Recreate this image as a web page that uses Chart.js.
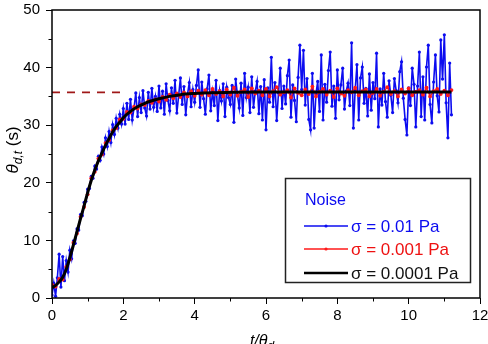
<!DOCTYPE html>
<html><head><meta charset="utf-8">
<script src="https://cdn.jsdelivr.net/npm/chart.js@4"></script>
<style>html,body{margin:0;padding:0;background:#fff}#wrap{position:relative;width:488px;height:344px}</style>
</head><body><div id="wrap"><canvas id="c" width="488" height="344"></canvas></div>
<script>
// sampling step of the noisy series (t/θd)
const blueStep = 0.05;
const blueValues = [
 0.5, 2.6, 0.3, 3.5, 7.6, 1.9, 7.2, 3.0, 6.5, 4.5, 8.3, 6.8, 9.9, 9.5, 12.0, 11.8, 14.5, 14.3, 16.6, 16.8,
 18.9, 19.0, 21.1, 20.8, 22.9, 22.4, 24.6, 23.9, 26.2, 25.0, 27.8, 26.3, 28.9, 27.0, 30.1, 28.4, 31.2, 29.5, 31.9, 30.2,
 32.9, 30.2, 33.8, 31.0, 34.5, 30.9, 33.0, 35.6, 31.5, 34.8, 32.2, 36.0, 33.0, 31.6, 35.7, 32.8, 36.4, 33.1, 35.0, 32.4,
 36.8, 33.0, 35.9, 31.9, 37.2, 34.3, 32.5, 36.5, 33.8, 37.8, 32.1, 35.1, 38.2, 33.6, 36.7, 31.8, 35.4, 37.4, 33.2, 36.2,
 34.0, 36.9, 39.6, 33.1, 37.5, 34.6, 31.9, 36.3, 38.7, 32.5, 35.8, 33.4, 37.8, 30.8, 36.0, 34.2, 37.2, 31.5, 36.6, 34.8,
 33.6, 36.9, 30.5, 38.0, 35.2, 33.0, 37.3, 31.7, 39.0, 34.8, 36.6, 32.2, 38.4, 33.1, 35.9, 37.6, 32.0, 36.7, 30.9, 37.9,
 29.2, 36.5, 34.0, 41.8, 33.2, 37.4, 30.8, 35.6, 39.9, 32.9, 36.8, 33.7, 38.6, 41.3, 31.4, 37.0, 34.3, 30.6, 38.3, 43.9,
 36.2, 43.0, 33.5, 38.1, 31.0, 29.2, 39.0, 29.5, 35.4, 37.6, 32.4, 42.2, 30.9, 37.1, 34.0, 39.5, 42.7, 33.3, 36.8, 31.2,
 39.6, 34.4, 37.0, 39.9, 32.8, 35.9, 37.3, 33.4, 44.3, 29.5, 36.1, 40.5, 30.9, 38.2, 40.1, 33.8, 36.4, 31.6, 38.9, 32.6,
 37.4, 34.6, 42.5, 29.7, 36.3, 33.5, 39.0, 34.1, 31.4, 37.7, 35.2, 32.2, 38.1, 36.0, 33.9, 39.3, 41.0, 34.7, 31.0, 28.3,
 36.5, 33.4, 39.9, 37.1, 29.7, 36.8, 42.7, 31.5, 38.4, 30.9, 40.1, 43.9, 33.6, 30.4, 37.5, 42.2, 35.1, 32.3, 44.8, 38.0,
 45.7, 33.9, 27.8, 40.8, 31.8
];
const redStep = 0.1;
const redValues = [
 2.3, 2.0, 3.3, 3.2, 5.4, 6.7, 9.6, 11.2, 14.1, 15.8,
 18.0, 20.8, 21.9, 24.2, 24.9, 26.9, 27.4, 29.1, 29.5, 31.0,
 31.1, 32.3, 32.2, 33.2, 32.9, 33.6, 33.5, 34.2, 33.9, 34.5,
 34.1, 34.9, 34.4, 35.3, 34.7, 35.5, 34.9, 35.7, 35.0, 35.9,
 35.1, 36.0, 35.3, 36.1, 35.2, 36.3, 35.4, 35.9, 35.0, 36.2,
 35.3, 36.5, 35.1, 35.8, 36.2, 34.9, 36.4, 35.5, 36.0, 35.2,
 36.3, 35.0, 35.9, 36.6, 35.3, 35.7, 36.1, 34.8, 36.4, 35.6,
 35.2, 36.2, 35.4, 36.7, 35.0, 35.8, 36.3, 35.3, 36.0, 34.9,
 36.4, 35.5, 35.1, 36.1, 35.7, 36.5, 35.2, 35.9, 36.2, 35.0,
 35.6, 36.3, 35.1, 35.8, 36.6, 35.4, 35.9, 35.0, 36.2, 35.5,
 36.4, 35.2, 35.8, 36.1, 35.3, 36.5, 35.0, 35.9, 36.3, 35.4,
 36.0, 35.2, 36.1
];
const curveT = [0,0.1,0.2,0.3,0.4,0.5,0.6,0.7,0.8,0.9,1.0,1.1,1.2,1.3,1.4,1.5,1.6,1.7,1.8,1.9,2.0,2.2,2.4,2.6,2.8,3.0,3.3,3.6,4.0,4.5,5.0,6.0,8.0,10.0,11.2];
const curveY = [1.8,2.2,2.8,3.6,5.0,7.0,9.2,11.5,13.8,16.0,18.3,20.4,22.2,23.8,25.2,26.5,27.7,28.8,29.8,30.5,31.3,32.4,33.2,33.8,34.25,34.6,35.0,35.3,35.5,35.65,35.7,35.75,35.75,35.75,35.75];
const plateauT = [0, 2.05];
const plateauY = [35.7, 35.7];
const xTicks = [0,2,4,6,8,10,12];
const yTicks = [0,10,20,30,40,50];
const xMinor = [1,3,5,7,9,11];
const yMinor = [5,15,25,35,45];
const legendTitle = 'Noise';
const legendLabels = ['σ = 0.01 Pa','σ = 0.001 Pa','σ = 0.0001 Pa'];

const BLUE = '#0c0cf0', RED = '#ff1a1a', BLACK = '#000000', DRED = '#a01818';
const FONT = '"Liberation Sans", Arial, sans-serif';

const blueData = blueValues.map((v,i)=>({x:+(i*blueStep).toFixed(2), y:v}));
const redData = redValues.map((v,i)=>({x:+(i*redStep).toFixed(2), y:v}));
const curveData = curveT.map((t,i)=>({x:t, y:curveY[i]}));
const plateauData = plateauT.map((t,i)=>({x:t, y:plateauY[i]}));

const decor = {
  id:'decor',
  afterDraw(chart){
    const ctx = chart.ctx, a = chart.chartArea;
    const xs = chart.scales.x, ys = chart.scales.y;
    ctx.save();
    ctx.strokeStyle = '#000'; ctx.lineWidth = 1.5;
    ctx.strokeRect(a.left, a.top, a.right-a.left, a.bottom-a.top);
    ctx.lineWidth = 1;
    ctx.beginPath();
    xMinor.forEach(v=>{const p=Math.round(xs.getPixelForValue(v))+0.5; ctx.moveTo(p,a.bottom); ctx.lineTo(p,a.bottom+3.5);});
    yMinor.forEach(v=>{const p=Math.round(ys.getPixelForValue(v))+0.5; ctx.moveTo(a.left,p); ctx.lineTo(a.left-3.5,p);});
    ctx.stroke();
    const bx=285.5, by=178.5, bw=185, bh=104;
    ctx.fillStyle='#fff'; ctx.fillRect(bx,by,bw,bh);
    ctx.strokeStyle='#222'; ctx.lineWidth=1.5; ctx.strokeRect(bx,by,bw,bh);
    ctx.textBaseline='middle'; ctx.textAlign='left';
    ctx.font = '16px '+FONT; ctx.fillStyle=BLUE;
    ctx.fillText(legendTitle, 305, 201);
    const rows=[226,249,273], cols=[BLUE,RED,BLACK], lw=[1.4,1.4,2.5];
    rows.forEach((y,i)=>{
      ctx.strokeStyle=cols[i]; ctx.lineWidth=lw[i];
      ctx.beginPath(); ctx.moveTo(304,y); ctx.lineTo(348,y); ctx.stroke();
      if(i<2){ctx.fillStyle=cols[i]; ctx.beginPath(); ctx.arc(326,y,1.6,0,Math.PI*2); ctx.fill();}
      ctx.fillStyle = i===0?BLUE:(i===1?'#ee1111':'#111');
      ctx.font='17px '+FONT;
      ctx.fillText(legendLabels[i], 351, y+1);
    });
    ctx.fillStyle='#000'; ctx.textBaseline='alphabetic';
    ctx.font='italic 16px '+FONT;
    const main='t/θ', w1=ctx.measureText(main).width;
    ctx.font='italic 12px '+FONT;
    const w2=ctx.measureText('d').width;
    let sx = 262 - (w1+w2)/2;
    ctx.font='italic 16px '+FONT; ctx.fillText(main, sx, 346);
    ctx.font='italic 12px '+FONT; ctx.fillText('d', sx+w1, 350);
    ctx.save();
    ctx.translate(18,150); ctx.rotate(-Math.PI/2);
    ctx.font='italic 17px '+FONT; const a1=ctx.measureText('θ').width;
    ctx.font='italic 12px '+FONT; const a2=ctx.measureText('d,t').width;
    ctx.font='17px '+FONT; const a3=ctx.measureText(' (s)').width;
    let lx = -(a1+a2+a3)/2;
    ctx.font='italic 17px '+FONT; ctx.fillText('θ', lx, 0);
    ctx.font='italic 12px '+FONT; ctx.fillText('d,t', lx+a1, 4);
    ctx.font='17px '+FONT; ctx.fillText(' (s)', lx+a1+a2, 0);
    ctx.restore();
    ctx.restore();
  }
};

new Chart(document.getElementById('c'), {
  type:'line',
  data:{datasets:[
    {label:legendLabels[2], data:curveData, borderColor:BLACK, borderWidth:3, pointRadius:0, cubicInterpolationMode:'monotone', order:0},
    {label:legendLabels[1], data:redData, borderColor:RED, backgroundColor:RED, borderWidth:1.2, pointRadius:1.9, pointBorderWidth:0, order:1},
    {label:legendLabels[0], data:blueData, borderColor:BLUE, backgroundColor:BLUE, borderWidth:1.6, pointRadius:1.6, pointBorderWidth:0, order:2},
    {label:'plateau', data:plateauData, borderColor:DRED, borderWidth:1.8, borderDash:[8,7], pointRadius:0, order:3}
  ]},
  options:{
    responsive:false, animation:false, devicePixelRatio:1,
    layout:{padding:{top:10,right:8,left:0,bottom:0}},
    plugins:{legend:{display:false}, tooltip:{enabled:false}},
    scales:{
      x:{type:'linear', min:0, max:12,
        afterBuildTicks(s){s.ticks = xTicks.map(v=>({value:v}));},
        afterFit(s){s.height=46; s.paddingLeft=0; s.paddingRight=0;},
        grid:{drawOnChartArea:false, drawTicks:true, tickLength:6, color:'#000', lineWidth:1},
        border:{display:false},
        ticks:{color:'#000', font:{family:FONT,size:15}, padding:3, maxRotation:0}
      },
      y:{type:'linear', min:0, max:50,
        afterBuildTicks(s){s.ticks = yTicks.map(v=>({value:v}));},
        afterFit(s){s.width=52; s.paddingTop=0; s.paddingBottom=0;},
        grid:{drawOnChartArea:false, drawTicks:true, tickLength:6, color:'#000', lineWidth:1},
        border:{display:false},
        ticks:{color:'#000', font:{family:FONT,size:15}, padding:6}
      }
    }
  },
  plugins:[decor]
});
</script></body></html>
